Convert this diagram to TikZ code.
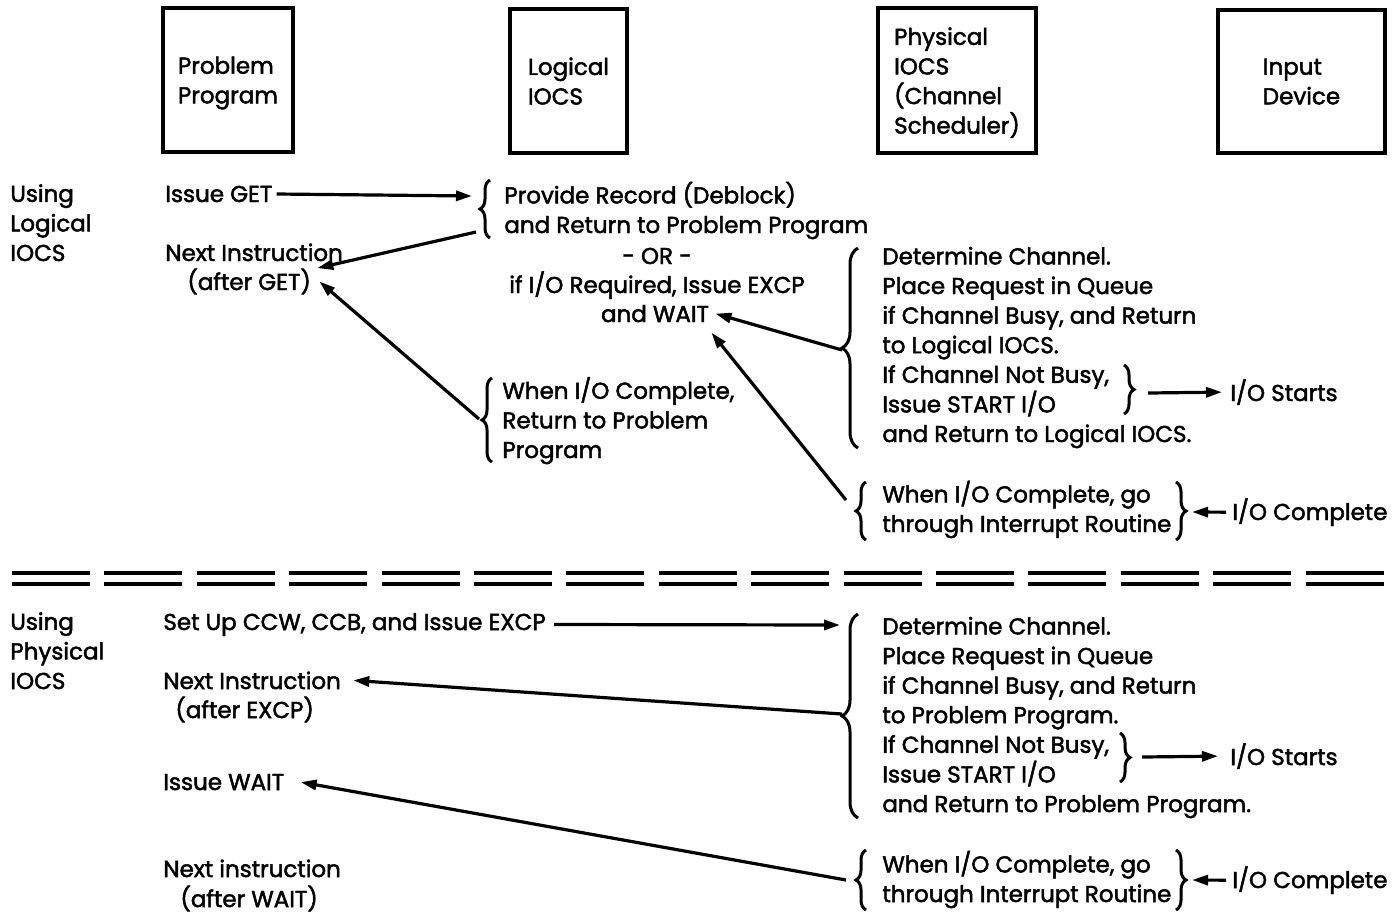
\documentclass[tikz,border=0pt]{standalone}
\usepackage{fontspec}
\setmainfont{Poppins}[FakeBold=2]
\usetikzlibrary{positioning,calc,arrows.meta,decorations.pathreplacing}

\begin{document}
\begin{tikzpicture}[x=0.5pt, y=-0.5pt,
    txt/.style={inner sep=0pt, anchor=base west, align=left, font=\fontsize{11.5}{14.8}\selectfont},
    unit/.style={draw, line width=2pt, inner sep=0pt, align=left, text depth=-3pt, font=\fontsize{11.5}{14.8}\selectfont},
    arr/.style={line width=1.6pt, -{Triangle[length=8pt,width=5pt]}},
    cb/.style={line width=1.5pt, decorate, decoration={brace, amplitude=#1}},
    cb/.default=5pt,
    sep/.style={line width=2pt, dash pattern=on 39pt off 7.2pt}]

    \useasboundingbox (0,0) rectangle (1395,912);

    \node[unit, minimum width=65pt, minimum height=72pt] (pp) at (228,80) {Problem\\Program};
    \node[unit, minimum width=58.5pt, minimum height=72pt] (lio) at (568.5,81) {Logical\\IOCS};
    \node[unit, minimum width=79pt, minimum height=72.5pt] (pio) at (957,80.5) {Physical\\IOCS\\(Channel\\Scheduler)};
    \node[unit, minimum width=83.5pt, minimum height=71.5pt] (dev) at (1301.5,81.5) {Input\\Device};

    % using logical IOCS (multi-line texts sit on their last line)
    \node[txt] (use1) at (10,261) {Using\\Logical\\IOCS};
    \node[txt] (get) at (165,202) {Issue GET};
    \node[txt] (nxt1) at (165,261) {Next Instruction};
    \node[txt] (aget) at (187,290) {(after GET)};
    \node[txt] (rec) at (504,233) {Provide Record (Deblock)\\and Return to Problem Program};
    \node[txt, anchor=base] (or) at (657,264) {- OR -};
    \node[txt, anchor=base] (req) at (657,293) {if I/O Required, Issue EXCP};
    \node[txt, anchor=base] (wait) at (655,322) {and WAIT};
    \node[txt] (ret) at (502,458) {When I/O Complete,\\Return to Problem\\Program};
    \node[txt] (ch1) at (882,442) {Determine Channel.\\Place Request in Queue\\if Channel Busy, and Return\\to Logical IOCS.\\If Channel Not Busy,\\Issue START I/O\\and Return to Logical IOCS.};
    \node[txt] (st1) at (1230,401) {I/O Starts};
    \node[txt] (int1) at (882,532) {When I/O Complete, go\\through Interrupt Routine};
    \node[txt] (cp1) at (1232,520) {I/O Complete};

    \draw[cb] (490,238) -- (490,180);
    \draw[cb=8pt] (858,448) -- (858,248);
    \draw[cb] (1124,365) -- (1124,414);
    \draw[cb] (492,462) -- (492,378);
    \draw[cb] (866,540) -- (866,482);
    \draw[cb] (1176,482) -- (1176,540);

    \coordinate (b1u) at (472,196);
    \coordinate (b1l) at (476,232);
    \coordinate (b4t) at (479,419);
    \coordinate (b2t) at (842,350);
    \coordinate (b5t) at (846,500);
    \coordinate (b3t) at (1148,393);
    \coordinate (b6t) at (1192,512);

    \draw[arr] ([xshift=2pt]get.east) -- (b1u);
    \draw[arr] (b1l) -- ([xshift=3pt]aget.north east);
    \draw[arr] (b4t) -- ([xshift=4pt]aget.east);
    \draw[arr] (b2t) -- ([xshift=3pt]wait.east);
    \draw[arr] (b5t) -- ([xshift=1pt,yshift=-5pt]wait.south east);
    \draw[arr] (b3t) -- ([xshift=-4pt]st1.west);
    \draw[arr] ([xshift=-3pt]cp1.west) -- (b6t);

    \draw[sep] (12,573) -- (1388,573);
    \draw[sep] (12,584) -- (1388,584);

    % using physical IOCS
    \node[txt] (use2) at (10,689) {Using\\Physical\\IOCS};
    \node[txt] (ccw) at (163,630) {Set Up CCW, CCB, and Issue EXCP};
    \node[txt] (nxt2) at (163,689) {Next Instruction};
    \node[txt] (aexcp) at (175,718) {(after EXCP)};
    \node[txt] (iwait) at (163,790) {Issue WAIT};
    \node[txt] (nxt3) at (163,877) {Next instruction};
    \node[txt] (await) at (180,907) {(after WAIT)};
    \node[txt] (ch2) at (882,812) {Determine Channel.\\Place Request in Queue\\if Channel Busy, and Return\\to Problem Program.\\If Channel Not Busy,\\Issue START I/O\\and Return to Problem Program.};
    \node[txt] (st2) at (1230,765) {I/O Starts};
    \node[txt] (int2) at (882,902) {When I/O Complete, go\\through Interrupt Routine};
    \node[txt] (cp2) at (1232,888) {I/O Complete};

    \draw[cb=8pt] (858,818) -- (858,614);
    \draw[cb] (1120,733) -- (1120,782);
    \draw[cb] (866,910) -- (866,850);
    \draw[cb] (1176,850) -- (1176,910);

    \coordinate (b7u) at (840,625);
    \coordinate (b7t) at (842,714);
    \coordinate (b9t) at (846,880);
    \coordinate (b8t) at (1142,757);
    \coordinate (b10t) at (1192,880);

    \draw[arr] ([xshift=4pt]ccw.east) -- (b7u);
    \draw[arr] (b7t) -- ([xshift=6pt]nxt2.east);
    \draw[arr] (b9t) -- ([xshift=8pt]iwait.east);
    \draw[arr] (b8t) -- ([xshift=-6pt]st2.west);
    \draw[arr] ([xshift=-3pt]cp2.west) -- (b10t);
\end{tikzpicture}
\end{document}
